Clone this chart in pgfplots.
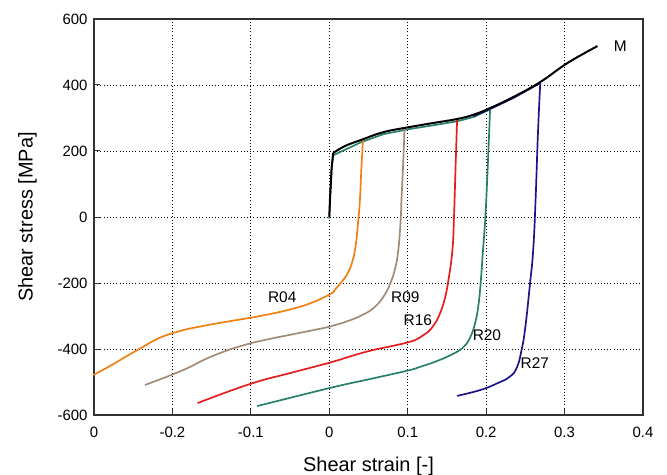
\documentclass[border=0pt]{standalone}
\usepackage{fontspec}
\setmainfont{Liberation Sans}
\usepackage{pgfplots}
\pgfplotsset{compat=1.18}
\definecolor{cR04}{RGB}{240,128,20}
\definecolor{cR09}{RGB}{160,140,118}
\definecolor{cR16}{RGB}{228,30,30}
\definecolor{cR20}{RGB}{40,128,108}
\definecolor{cR27}{RGB}{28,20,135}
\definecolor{axgray}{RGB}{50,50,50}
\begin{document}
\begin{tikzpicture}
\begin{axis}[
  name=ax,
  scale only axis,
  width=549bp, height=396bp,
  xmin=-0.3, xmax=0.4, ymin=-600, ymax=600,
  xtick={-0.3,-0.2,-0.1,0,0.1,0.2,0.3,0.4},
  xticklabels={0,-0.2,-0.1,0,0.1,0.2,0.3,0.4},
  ytick={-600,-400,-200,0,200,400,600},
  yticklabels={-600,-400,-200,0,200,400,600},
  xtick pos=bottom, ytick pos=left,
  tick align=inside,
  major tick length=6bp,
  tick style={axgray, line width=1pt},
  axis line style={axgray, line width=2pt},
  grid=major,
  grid style={black, line width=0.9pt, dash pattern=on 1pt off 2.2pt},
  ticklabel style={font=\fontsize{15}{17}\selectfont},
  xticklabel style={yshift=-9bp},
  yticklabel style={xshift=-3bp},
  xlabel={Shear strain [-]},
  ylabel={Shear stress [MPa]},
  label style={font=\fontsize{20}{22}\selectfont},
  xlabel style={yshift=-12bp},
  ylabel style={yshift=14bp},
  clip=false,
  every axis plot/.append style={line width=1.7pt},
]
% loading branches (under M)
\addplot[cR20] coordinates {
  (0,-5) (0.001,55) (0.003,145) (0.005,187) (0.04,226) (0.069,251) (0.101,266)
  (0.133,278) (0.163,290) (0.184,303) (0.205,326)};
\addplot[cR27] coordinates {(0.184,306) (0.205,327) (0.235,361) (0.269,406)};
% R04
\addplot[cR04, smooth, tension=0.8] coordinates {
  (0.043,235)
  (0.041,150) (0.039,50) (0.037,-9) (0.034,-80) (0.030,-130) (0.024,-168)
  (0.016,-196) (0.008,-218) (0.001,-234) (-0.025,-262) (-0.050,-280)
  (-0.075,-294) (-0.097,-304) (-0.13,-317) (-0.165,-332) (-0.185,-342)
  (-0.2,-352) (-0.22,-370) (-0.24,-397) (-0.26,-424) (-0.28,-452) (-0.301,-479)};
% R09
\addplot[cR09, smooth, tension=0.8] coordinates {
  (0.096,270)
  (0.094,150) (0.092,50) (0.091,-9) (0.088,-100) (0.084,-155) (0.078,-200)
  (0.070,-238) (0.060,-268) (0.048,-290) (0.036,-304) (0.018,-320)
  (0.001,-332) (-0.025,-345) (-0.050,-357) (-0.075,-369) (-0.101,-383)
  (-0.120,-396) (-0.140,-413) (-0.160,-433) (-0.180,-457) (-0.205,-482)
  (-0.235,-509)};
% R16
\addplot[cR16, smooth, tension=0.8] coordinates {
  (0.163,297)
  (0.161,150) (0.159,0) (0.157,-100) (0.152,-190) (0.147,-250) (0.141,-293)
  (0.134,-325) (0.125,-350) (0.115,-366) (0.103,-378) (0.080,-391)
  (0.056,-403) (0.030,-420) (0.001,-441) (-0.050,-473) (-0.101,-506)
  (-0.168,-564)};
% R20
\addplot[cR20, smooth, tension=0.8] coordinates {
  (0.205,326)
  (0.202,150) (0.199,0) (0.196,-100) (0.193,-200) (0.190,-270) (0.186,-321)
  (0.180,-363) (0.172,-392) (0.161,-411) (0.148,-426) (0.130,-443)
  (0.116,-454) (0.099,-466) (0.05,-492) (0.001,-518) (-0.092,-573)};
% R27
\addplot[cR27, smooth, tension=0.8] coordinates {
  (0.269,406)
  (0.266,250) (0.263,50) (0.260,-100) (0.256,-200) (0.250,-333)
  (0.245,-405) (0.239,-457) (0.230,-484) (0.215,-503) (0.193,-524)
  (0.163,-542)};
% M
\addplot[black, line width=2pt] coordinates {(0,0) (0.001,60) (0.003,150) (0.005,194)};
\addplot[black, line width=2pt, smooth, tension=0.7] coordinates {
  (0.005,194) (0.02,215) (0.04,233)
  (0.069,257) (0.101,272) (0.133,285) (0.163,297) (0.184,310) (0.205,330)
  (0.235,364) (0.269,409) (0.304,467) (0.342,518)};

\node[font=\fontsize{15.5}{17}\selectfont] at (axis cs:-0.060,-242) {R04};
\node[font=\fontsize{15.5}{17}\selectfont] at (axis cs:0.097,-242) {R09};
\node[font=\fontsize{15.5}{17}\selectfont] at (axis cs:0.113,-312) {R16};
\node[font=\fontsize{15.5}{17}\selectfont] at (axis cs:0.201,-358) {R20};
\node[font=\fontsize{15.5}{17}\selectfont] at (axis cs:0.262,-442) {R27};
\node[font=\fontsize{15.5}{17}\selectfont] at (axis cs:0.371,518) {M};
\end{axis}
\pgfresetboundingbox
\path[use as bounding box] (ax.south west) ++(-94bp,-60bp) rectangle ++(667bp,475bp);
\end{tikzpicture}
\end{document}
